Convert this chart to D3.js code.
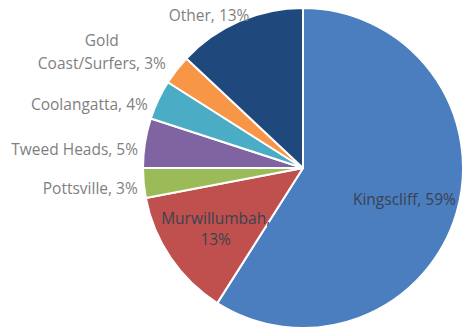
<!DOCTYPE html>
<html>
<head>
<meta charset="utf-8">
<script src="https://cdn.jsdelivr.net/npm/d3@7"></script>
<style>
  html, body { margin: 0; padding: 0; background: #ffffff; }
  svg { display: block; }
  text { font-family: "Open Sans", "Noto Sans", sans-serif; }
</style>
</head>
<body>
<svg id="chart" width="471" height="331"></svg>
<script>
// Share of respondents by location (percent)
const categories = ["Kingscliff", "Murwillumbah", "Pottsville", "Tweed Heads", "Coolangatta", "Gold Coast/Surfers", "Other"];
const shares = [59, 13, 3, 5, 4, 3, 13];
const colors = ["#4a7ebf", "#c0504d", "#9bbb59", "#8064a2", "#4bacc6", "#f79646", "#1f497d"];

const width = 471, height = 331;
const cx = 303, cy = 168, radius = 160;

const svg = d3.select("#chart");
const g = svg.append("g").attr("transform", `translate(${cx},${cy})`);

const data = categories.map((c, i) => ({ name: c, value: shares[i], color: colors[i] }));

const pie = d3.pie().value(d => d.value).sort(null);
const arcs = pie(data);

const arc = d3.arc().innerRadius(0).outerRadius(radius);

g.selectAll("path.slice")
  .data(arcs)
  .join("path")
  .attr("class", "slice")
  .attr("d", arc)
  .attr("fill", d => d.data.color)
  .attr("stroke", "#ffffff")
  .attr("stroke-width", 2)
  .attr("stroke-linejoin", "round");

const fontSize = 15.5;

// Labels inside the two large slices
const innerArc = d3.arc().innerRadius(radius * 0.66).outerRadius(radius * 0.66);
const insideLines = {
  "Kingscliff": d => [`${d.data.name}, ${d.data.value}%`],
  "Murwillumbah": d => [`${d.data.name},`, `${d.data.value}%`]
};

// Labels outside the small slices, right-aligned against the rim
const outerArc = d3.arc().innerRadius(radius + 6).outerRadius(radius + 6);
const outsideLines = {
  "Pottsville": d => [`${d.data.name}, ${d.data.value}%`],
  "Tweed Heads": d => [`${d.data.name}, ${d.data.value}%`],
  "Coolangatta": d => [`${d.data.name}, ${d.data.value}%`],
  "Gold Coast/Surfers": d => ["Gold", `Coast/Surfers, ${d.data.value}%`],
  "Other": d => [`${d.data.name}, ${d.data.value}%`]
};
// small nudges so labels sit clear of neighbouring slices
const nudge = {
  "Pottsville": [0, 5],
  "Tweed Heads": [-1, 8],
  "Coolangatta": [-5, 7],
  "Gold Coast/Surfers": [-70, -3],
  "Other": [-28, 0]
};
const anchorFor = { "Gold Coast/Surfers": "middle", "Other": "middle" };
const lineH = 23;

arcs.forEach(d => {
  const name = d.data.name;
  if (insideLines[name]) {
    const [x, y] = innerArc.centroid(d);
    const lines = insideLines[name](d);
    const t = g.append("text")
      .attr("text-anchor", "middle")
      .attr("font-size", fontSize)
      .attr("fill", "#3a4252");
    lines.forEach((ln, i) => {
      t.append("tspan")
        .attr("x", x)
        .attr("y", y + 2 + (i - (lines.length - 1) / 2) * (lineH - 2))
        .attr("dy", "0.35em")
        .text(ln);
    });
  } else {
    const [px, py] = outerArc.centroid(d);
    const [nx, ny] = nudge[name] || [0, 0];
    const lines = outsideLines[name](d);
    const t = g.append("text")
      .attr("text-anchor", anchorFor[name] || "end")
      .attr("font-size", fontSize)
      .attr("fill", "#7f7f7f");
    lines.forEach((ln, i) => {
      t.append("tspan")
        .attr("x", px + nx)
        .attr("y", py + ny - (lines.length - 1 - i) * lineH)
        .attr("dy", "0.35em")
        .text(ln);
    });
  }
});
</script>
</body>
</html>
